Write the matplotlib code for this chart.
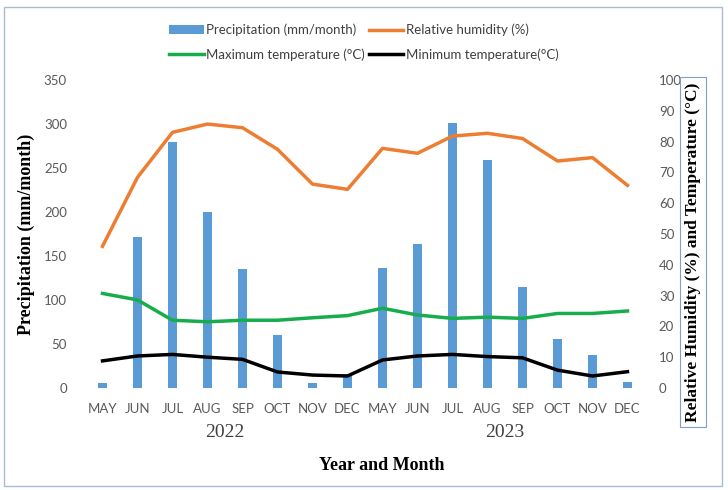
import numpy as np
import matplotlib.pyplot as plt
from matplotlib.patches import Rectangle

months = ["MAY", "JUN", "JUL", "AUG", "SEP", "OCT", "NOV", "DEC",
          "MAY", "JUN", "JUL", "AUG", "SEP", "OCT", "NOV", "DEC"]
years = ["2022", "2023"]

precip = [6, 172, 280, 200, 135, 60, 6, 16,
          136, 164, 301, 259, 115, 56, 37, 7]
humidity = [46, 68.4, 83, 85.7, 84.5, 77.5, 66.2, 64.5,
            77.8, 76.2, 81.8, 82.7, 81, 73.7, 74.8, 65.8]
tmax = [30.7, 28.6, 22, 21.5, 22, 22, 22.8, 23.5,
        25.9, 23.7, 22.6, 23, 22.6, 24.2, 24.2, 25]
tmin = [8.8, 10.4, 10.9, 10, 9.3, 5.2, 4.2, 3.9,
        9.1, 10.4, 10.9, 10.2, 9.8, 5.8, 3.9, 5.3]

c_bar = "#5B9BD5"
c_rh = "#ED7D31"
c_tmax = "#17AD4C"
c_tmin = "black"
tick_col = "#595959"

plt.rcParams['font.family'] = ['Lato', 'DejaVu Sans']

fig = plt.figure(figsize=(7.28, 4.9), dpi=100)
ax = fig.add_axes([85 / 728, 1 - 388 / 490, 560 / 728, 308 / 490])
ax2 = ax.twinx()

x = np.arange(len(months))
bars = ax.bar(x, precip, width=0.27, color=c_bar, zorder=1,
              label="Precipitation (mm/month)")
l1, = ax2.plot(x, humidity, color=c_rh, lw=2.5, solid_joinstyle='round',
               label="Relative humidity (%)")
l2, = ax2.plot(x, tmax, color=c_tmax, lw=2.5, solid_joinstyle='round',
               label="Maximum temperature (\u00b0C)")
l3, = ax2.plot(x, tmin, color=c_tmin, lw=2.5, solid_joinstyle='round',
               label="Minimum temperature(\u00b0C)")

ax.set_xlim(-0.5, len(months) - 0.5)
ax.set_ylim(0, 350)
ax.set_yticks(range(0, 351, 50))
ax2.set_ylim(0, 100)
ax2.set_yticks(range(0, 101, 10))
ax.set_xticks(x)
ax.set_xticklabels(months)

for a in (ax, ax2):
    for s in a.spines.values():
        s.set_visible(False)
    a.tick_params(length=0, colors=tick_col, labelsize=9.5)
ax.tick_params(axis='y', pad=13)
ax.tick_params(axis='x', pad=11)
ax2.tick_params(axis='y', pad=10)

ax.set_ylabel("Precipitation (mm/month)", family='Liberation Serif',
              fontweight='bold', fontsize=13, color='black', labelpad=6)

for i, yr in enumerate(years):
    ax.text(3.5 + 8 * i, -0.145, yr, transform=ax.get_xaxis_transform(),
            ha='center', va='center', family='Liberation Serif',
            fontsize=14, color='#404040')

fig.text(382 / 728, 1 - 465 / 490, "Year and Month", ha='center', va='center',
         family='Liberation Serif', fontweight='bold', fontsize=13)

fig.text(693 / 728, 1 - 252 / 490, "Relative Humidity (%) and Temperature (\u00b0C)",
         rotation=90, ha='center', va='center', family='Liberation Serif',
         fontweight='bold', fontsize=12.5,
         bbox=dict(boxstyle='square,pad=0.3', fc='white', ec='#7F9FCC', lw=0.8))

fig.legend(handles=[bars, l2, l1, l3], ncol=2, loc='upper center',
           bbox_to_anchor=(0.5, 1 - 12 / 490), frameon=False, fontsize=9.5,
           handlelength=2.6, handletextpad=0.2, columnspacing=0.3,
           labelspacing=0.9, labelcolor='#404040')

fig.patches.append(Rectangle((4 / 728, 1 - 486 / 490), 718 / 728, 479 / 490,
                             transform=fig.transFigure, fill=False,
                             ec='#A9BCD6', lw=1))

fig.savefig("out.png", dpi=100)
